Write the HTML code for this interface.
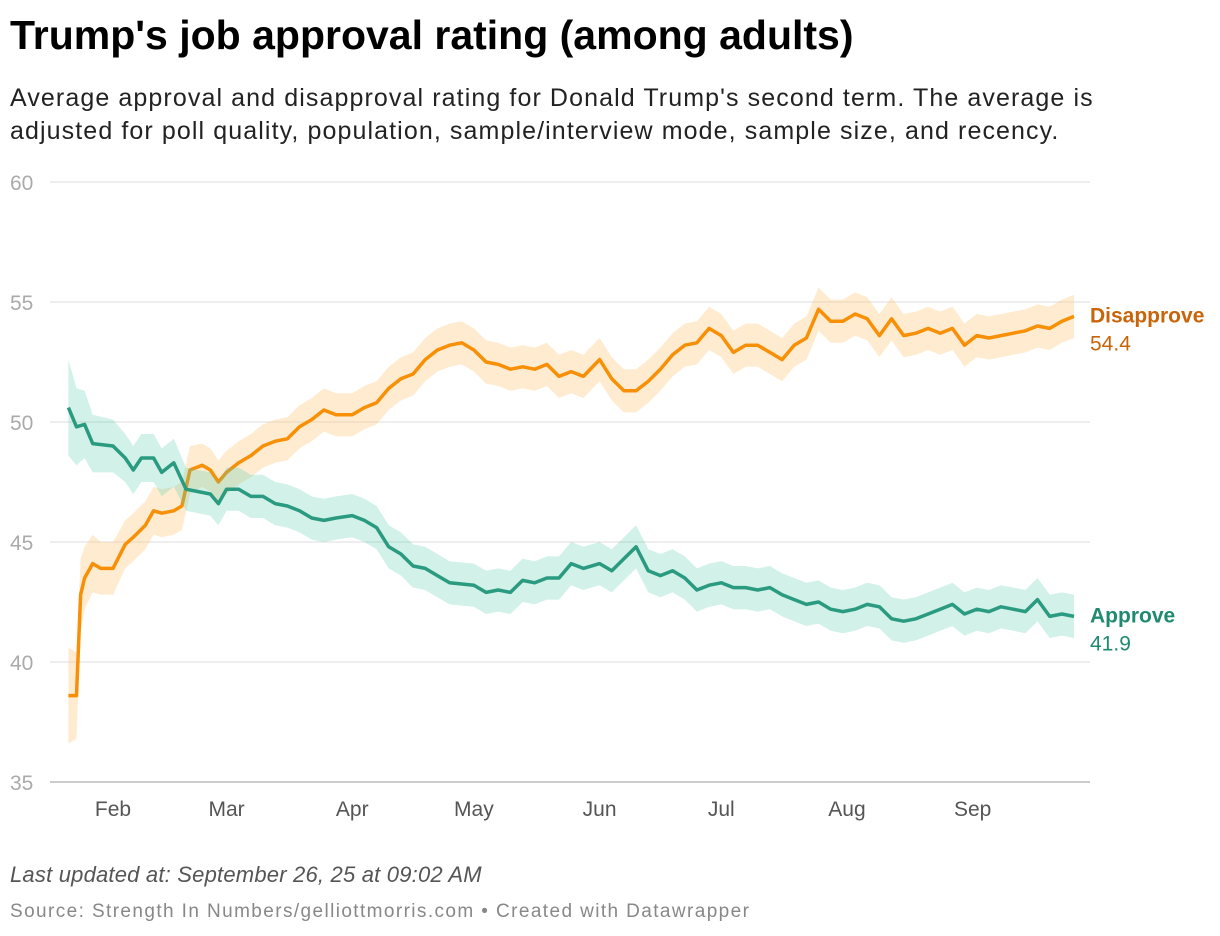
<!DOCTYPE html>
<html><head><meta charset="utf-8">
<style>
body{margin:0;background:#fff;width:1220px;height:936px;overflow:hidden;font-family:"Liberation Sans",sans-serif;}
#title{position:absolute;left:10px;top:12px;font-size:41px;font-weight:bold;color:#000;letter-spacing:0px;}
#sub{position:absolute;left:10px;top:82px;font-size:25px;line-height:33px;color:#222;width:1210px;letter-spacing:1.1px;white-space:nowrap;}
#upd{position:absolute;left:10px;top:862px;font-size:22px;font-style:italic;color:#555;letter-spacing:0.2px;}
#src{position:absolute;left:10px;top:901px;font-size:19px;color:#888;letter-spacing:1.4px;}
svg{position:absolute;left:0;top:0;}
</style></head><body>
<div id="title">Trump's job approval rating (among adults)</div>
<div id="sub">Average approval and disapproval rating for Donald Trump's second term. The average is<br>adjusted for poll quality, population, sample/interview mode, sample size, and recency.</div>
<svg id="chart" width="1220" height="936"></svg>
<div id="upd">Last updated at: September 26, 25 at 09:02 AM</div>
<div id="src">Source: Strength In Numbers/gelliottmorris.com • Created with Datawrapper</div>
<script>
const yTicks=[35,40,45,50,55,60];
const monthLabels=["Feb","Mar","Apr","May","Jun","Jul","Aug","Sep"];
const monthDates=["2025-02-01","2025-03-01","2025-04-01","2025-05-01","2025-06-01","2025-07-01","2025-08-01","2025-09-01"];
const disDates=["01-21","01-23","01-24","01-25","01-27","01-29","02-01","02-04","02-06","02-09","02-11","02-13","02-16","02-18","02-20","02-23","02-25","02-27","03-01","03-04","03-07","03-10","03-13","03-16","03-19","03-22","03-25","03-28","04-01","04-04","04-07","04-10","04-13","04-16","04-19","04-22","04-25","04-28","05-01","05-04","05-07","05-10","05-13","05-16","05-19","05-22","05-25","05-28","06-01","06-04","06-07","06-10","06-13","06-16","06-19","06-22","06-25","06-28","07-01","07-04","07-07","07-10","07-13","07-16","07-19","07-22","07-25","07-28","07-31","08-03","08-06","08-09","08-12","08-15","08-18","08-21","08-24","08-27","08-30","09-02","09-05","09-08","09-11","09-14","09-17","09-20","09-23","09-26"];
const disapprove=[38.6,38.6,42.8,43.5,44.1,43.9,43.9,44.9,45.2,45.7,46.3,46.2,46.3,46.5,48.0,48.2,48.0,47.5,47.9,48.3,48.6,49.0,49.2,49.3,49.8,50.1,50.5,50.3,50.3,50.6,50.8,51.4,51.8,52.0,52.6,53.0,53.2,53.3,53.0,52.5,52.4,52.2,52.3,52.2,52.4,51.9,52.1,51.9,52.6,51.8,51.3,51.3,51.7,52.2,52.8,53.2,53.3,53.9,53.6,52.9,53.2,53.2,52.9,52.6,53.2,53.5,54.7,54.2,54.2,54.5,54.3,53.6,54.3,53.6,53.7,53.9,53.7,53.9,53.2,53.6,53.5,53.6,53.7,53.8,54.0,53.9,54.2,54.4];
const disMargin=[2.0,1.8,1.5,1.3,1.2,1.1,1.1,1.0,1.0,1.0,1.0,1.0,1.0,1.0,1.0,0.9,0.9,0.9,0.9,0.9,0.9,0.9,0.9,0.9,0.9,0.9,0.9,0.9,0.9,0.9,0.9,0.9,0.9,0.9,0.9,0.9,0.9,0.9,0.9,0.9,0.9,0.9,0.9,0.9,0.9,0.9,0.9,0.9,0.9,0.9,0.9,0.9,0.9,0.9,0.9,0.9,0.9,0.9,0.9,0.9,0.9,0.9,0.9,0.9,0.9,0.9,0.9,0.9,0.9,0.9,0.9,0.9,0.9,0.9,0.9,0.9,0.9,0.9,0.9,0.9,0.9,0.9,0.9,0.9,0.9,0.9,0.9,0.9];
const appDates=["01-21","01-23","01-25","01-27","02-01","02-04","02-06","02-08","02-11","02-13","02-16","02-19","02-22","02-25","02-27","03-01","03-04","03-07","03-10","03-13","03-16","03-19","03-22","03-25","03-28","04-01","04-04","04-07","04-10","04-13","04-16","04-19","04-22","04-25","05-01","05-04","05-07","05-10","05-13","05-16","05-19","05-22","05-25","05-28","06-01","06-04","06-07","06-10","06-13","06-16","06-19","06-22","06-25","06-28","07-01","07-04","07-07","07-10","07-13","07-16","07-19","07-22","07-25","07-28","07-31","08-03","08-06","08-09","08-12","08-15","08-18","08-21","08-24","08-27","08-30","09-02","09-05","09-08","09-11","09-14","09-17","09-20","09-23","09-26"];
const approve=[50.6,49.8,49.9,49.1,49.0,48.5,48.0,48.5,48.5,47.9,48.3,47.2,47.1,47.0,46.6,47.2,47.2,46.9,46.9,46.6,46.5,46.3,46.0,45.9,46.0,46.1,45.9,45.6,44.8,44.5,44.0,43.9,43.6,43.3,43.2,42.9,43.0,42.9,43.4,43.3,43.5,43.5,44.1,43.9,44.1,43.8,44.3,44.8,43.8,43.6,43.8,43.5,43.0,43.2,43.3,43.1,43.1,43.0,43.1,42.8,42.6,42.4,42.5,42.2,42.1,42.2,42.4,42.3,41.8,41.7,41.8,42.0,42.2,42.4,42.0,42.2,42.1,42.3,42.2,42.1,42.6,41.9,42.0,41.9];
const appMargin=[2.0,1.6,1.4,1.2,1.1,1.0,1.0,1.0,1.0,1.0,1.0,0.9,0.9,0.9,0.9,0.9,0.9,0.9,0.9,0.9,0.9,0.9,0.9,0.9,0.9,0.9,0.9,0.9,0.9,0.9,0.9,0.9,0.9,0.9,0.9,0.9,0.9,0.9,0.9,0.9,0.9,0.9,0.9,0.9,0.9,0.9,0.9,0.9,0.9,0.9,0.9,0.9,0.9,0.9,0.9,0.9,0.9,0.9,0.9,0.9,0.9,0.9,0.9,0.9,0.9,0.9,0.9,0.9,0.9,0.9,0.9,0.9,0.9,0.9,0.9,0.9,0.9,0.9,0.9,0.9,0.9,0.9,0.9,0.9];

const NS="http://www.w3.org/2000/svg";
const svg=document.getElementById('chart');
const t0=Date.UTC(2025,1,1);
function dayOf(s){const p=s.split('-');if(p.length===2)return (Date.UTC(2025,+p[0]-1,+p[1])-t0)/864e5;return (Date.UTC(+p[0],+p[1]-1,+p[2])-t0)/864e5;}
function X(d){return 113+dayOf(d)*4.055;}
function Y(v){return 782-(v-35)*24;}
function mk(tag,attrs){const e=document.createElementNS(NS,tag);for(const k in attrs)e.setAttribute(k,attrs[k]);svg.appendChild(e);return e;}
yTicks.forEach(v=>{
  const l=mk('line',{x1:50,x2:1090,y1:Y(v),y2:Y(v),stroke:v===35?'#bbb':'#ddd','stroke-width':v===35?1.5:1});
  
  
  const t=mk('text',{x:10,y:Y(v)+8,'font-size':21,fill:'#aaa','font-family':'Liberation Sans, sans-serif'});
  t.textContent=v;
  
  
});
monthLabels.forEach((m,i)=>{
  const t=mk('text',{x:X(monthDates[i]),y:816,'font-size':21,fill:'#555','text-anchor':'middle','font-family':'Liberation Sans, sans-serif'});
  t.textContent=m;
  
  
});
function series(dates,vals,marg,line,fill,name){
  let up=dates.map((d,i)=>X(d).toFixed(1)+','+Y(vals[i]+marg[i]).toFixed(1));
  let lo=dates.map((d,i)=>X(d).toFixed(1)+','+Y(vals[i]-marg[i]).toFixed(1)).reverse();
  const b=mk('polygon',{points:up.concat(lo).join(' '),fill:fill});
  
  
  const p=mk('polyline',{points:dates.map((d,i)=>X(d).toFixed(1)+','+Y(vals[i]).toFixed(1)).join(' '),fill:'none',stroke:line,'stroke-width':3.5,'stroke-linejoin':'round'});
  
  
}
series(disDates,disapprove,disMargin,'#f78f07','rgba(255,200,120,0.35)','disapprove');
series(appDates,approve,appMargin,'#2a9a80','rgba(90,205,175,0.28)','approve');
function lab(txt,x,y,col,bold,name){
  const t=mk('text',{x:x,y:y,'font-size':21,fill:col,'font-weight':bold?'bold':'normal','font-family':'Liberation Sans, sans-serif'});
  t.textContent=txt;
  
  
}
const dl=disapprove[disapprove.length-1], al=approve[approve.length-1];
lab('Disapprove',1090,Y(dl)+6,'#c8650a',true,'disapprove-label');
lab(dl.toFixed(1),1090,Y(dl)+34,'#c8650a',false,'disapprove-value');
lab('Approve',1090,Y(al)+6,'#1f8a70',true,'approve-label');
lab(al.toFixed(1),1090,Y(al)+34,'#1f8a70',false,'approve-value');
</script>
</body></html>
